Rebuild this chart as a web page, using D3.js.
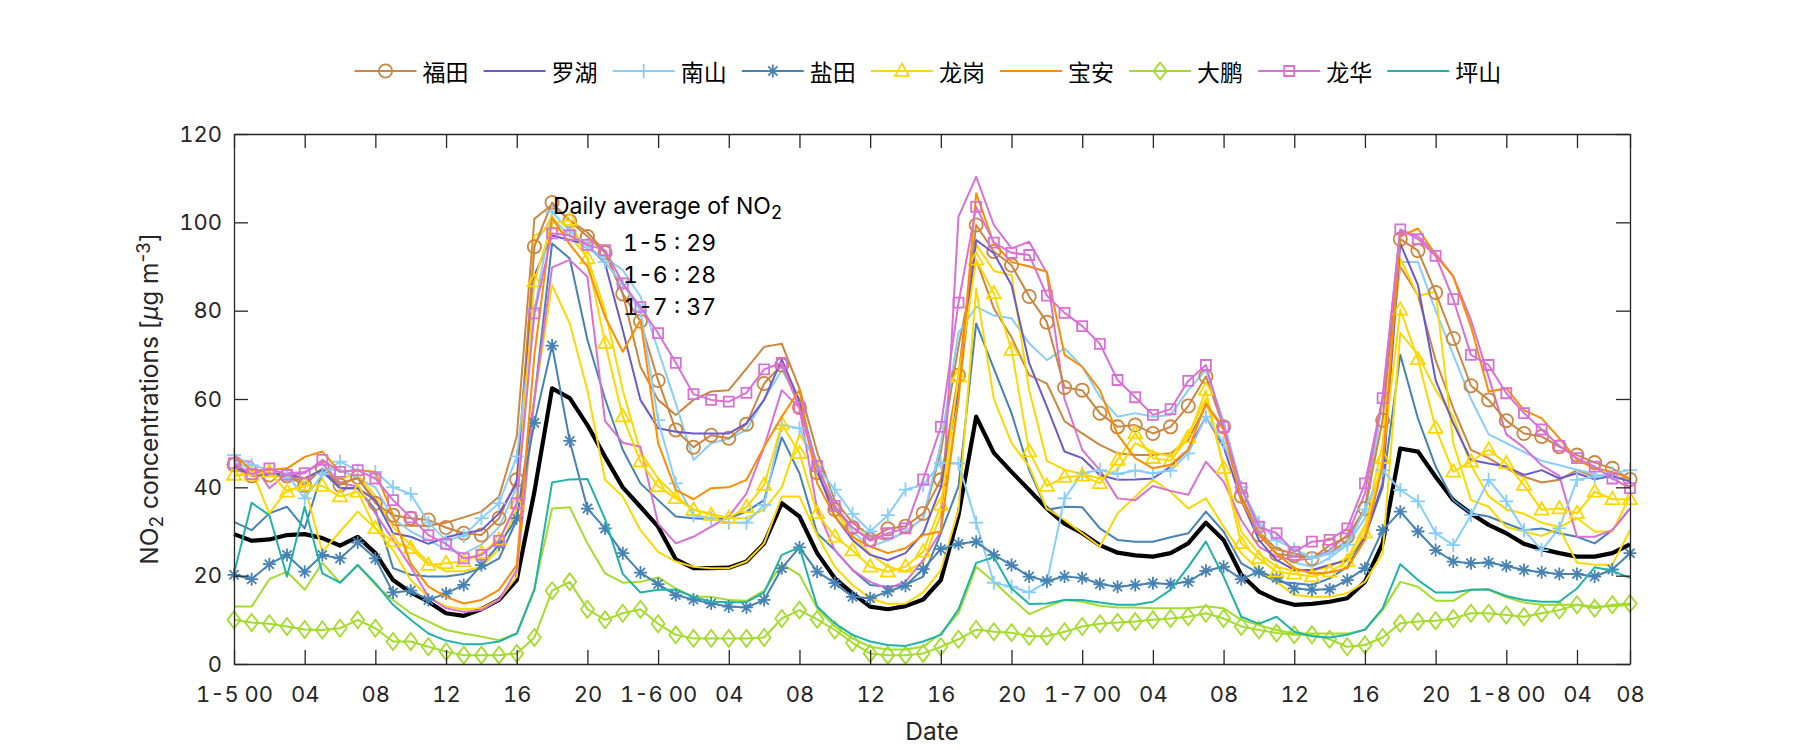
<!DOCTYPE html>
<html><head><meta charset="utf-8">
<script src="https://cdn.jsdelivr.net/npm/d3@7"></script>
<style>body{margin:0;background:#fff}</style>
</head><body><svg id="c" width="1800" height="750"></svg>
<script>
// ---------------- data ----------------
const hours = d3.range(80);
const xTickHours = [0,4,8,12,16,20,24,28,32,36,40,44,48,52,56,60,64,68,72,76,79];
const xTickLabels = ["1-5 00","04","08","12","16","20","1-6 00","04","08","12","16","20","1-7 00","04","08","12","16","20","1-8 00","04","08"];
const yTicks = [0,20,40,60,80,100,120];
const stationNames = ["福田","罗湖","南山","盐田","龙岗","宝安","大鹏","龙华","坪山"];
const dailyLabels = ["1-5 : 29","1-6 : 28","1-7 : 37"];

const futian = [45.1,42.6,42.8,42.6,40.5,44.3,40.5,42.3,36.4,33.7, 33.0,32.6,30.9,29.6,29.2,33.0,41.7,94.5,104.5,100.3, 96.8,93.1,83.8,77.6,64.2,53.0,49.1,51.8,51.1,54.3, 63.5,67.7,58.1,43.3,35.0,30.9,28.2,30.6,31.2,34.1, 41.7,65.4,99.4,93.4,90.3,83.2,77.4,62.6,62.0,56.8, 53.7,54.1,52.2,53.7,58.4,65.1,53.7,38.0,29.2,24.9, 24.5,23.9,26.9,28.8,35.2,55.2,96.2,93.6,84.1,73.7, 63.0,59.8,55.1,52.2,51.5,49.2,47.3,45.6,44.3,41.8];
const futian2 = [44,43,43,43,41,44,41,42,37.1,31.5, 31.3,31.3,32.0,33.2,34.5,37.9,51.5,100.8,104,100.5, 97.7,93.4,83.9,67.3,59.8,56.4,59.8,61.7,62.0,66.9, 71.8,72.5,62.4,48,37,32,29,28,30,33, 48,72,91.5,80.5,74.0,65.4,63.5,55,52.2,49.6, 47.7,47.3,47.3,47.7,50.7,58.6,53.7,38,30,26, 25,24,25,28,35,60,90,83.5,68.8,57.9, 48.5,46.6,44.3,42.4,41.1,41.7,43.9,42.4,42.4,41.7];
const luohu = [44.7,42.8,43.0,43.0,42.0,44.0,39.8,39.8,37.1,29.6, 28.8,27.2,28.7,29.6,30.3,34.1,40.9,88,97,96, 95,90.7,75.6,59.8,53.4,52.6,52.2,52.2,52.2,54.5, 59.8,68.9,59.5,43.9,33.4,28.1,24.7,23.5,25.1,29.6, 40,62,96,93,85.8,68.1,58.3,48.1,46.6,42.8, 41.7,41.8,42.0,44.7,48.5,56.0,49.2,37.1,28.1,23.5, 21.3,21.3,22.4,23.5,28.8,40.9,95.2,85.8,64.3,54.5, 46.2,45.4,44.7,42.8,43.9,42.0,43.2,41.8,42.6,41.3];
const nanshan = [47.3,45,44,43,37.5,43,45.8,43.8,43.5,40.0, 38.5,32,28,29,33,36.4,47,80,102.4,98, 95,91,86,80,55.2,40.9,33.7,33,32,32, 36,54.1,53.4,44.7,39.5,34,30,33.7,39.5,40.5, 45.6,45.4,32,18.4,17.5,16.2,18.6,37.5,43.2,43.9, 43.0,43.8,43.2,43.8,47.7,56,50,40,32,28, 26,24,25,27,35,43.9,39.4,36.8,29.6,26.9, 33.7,41.7,36.8,30.3,25.8,30.7,41.7,42.4,43.2,43.9];
const nanshan2 = [46,44,43,42,41,44,44,42,40,33, 30,28,26,25,27,31,40,95,101,97, 94,92,89.2,83.2,71.1,59.0,46.2,50,51,53, 60,66.5,60,45,36,30,26.6,28,30,33, 50,75,80.9,78.9,78.3,72.6,68.8,71.5,67.3,60.5, 56.0,56.8,56.0,56.4,62.0,66.6,55,40,30,25, 23,22,24,27,33,60,91,91,80,70, 60,52,50,48,46,45,44,43,42,42];
const yantian = [20.2,19.2,22.6,24.7,20.9,24.7,23.9,27.5,23.9,16.2, 16.6,14.5,16.0,17.9,22.4,27,33,54.6,72.1,50.5, 35.2,30.7,25.1,20.7,18.1,15.6,14.6,13.7,13.0,12.8, 14.5,21.7,26.4,20.9,18.3,15.2,14.9,16.4,17.7,21.5, 26.0,27.2,27.7,24.7,22.4,19.8,18.8,19.8,19.5,18.1, 17.5,17.9,18.3,18.1,18.6,21.1,22.0,19.2,20.9,19.5, 17.1,16.8,16.9,19.0,21.7,30.3,34.5,30.0,25.8,23.2, 22.8,23.0,22.2,21.3,20.8,20.4,20.4,19.8,21.4,25.1];
const yantian2 = [32.2,30.3,34.1,35.6,30.7,43.5,39.8,39.8,34.9,21.7, 20.2,19.8,19.8,20.4,21.7,23.9,32.6,60,95.2,91.8, 73.4,60,48.5,40.9,37.1,33.4,33.0,32.8,33.0,34.5, 37.1,51.3,43.2,29.6,25.8,21.3,17.9,17.5,17.9,19.8, 29.6,40.2,77.1,66.9,56.8,43.9,34.9,35.6,35.5,30.7, 28.1,27.7,27.7,28.7,29.6,34.5,30.0,22.8,20.5,18.6, 18.3,17.9,19.4,22.0,28.8,40,70.0,55.6,44.7,37.1, 34.1,33.4,31.8,30.3,30.7,29.6,28.8,27.3,30.3,35.2];
const longgang = [42.8,42.8,43.5,39.0,40.5,40.3,37.9,39.0,30.7,27.7, 26.2,22.4,22.8,23.2,25.1,28.1,36.4,86.6,99.8,100.5, 91.8,72.6,56.0,45.8,40.2,37.5,34.9,33.7,33.0,35.5, 40.5,54.3,47.7,34.1,28.8,25.7,22.0,20.9,22.0,25.4, 36.0,65.1,91.5,83.9,71.1,48.1,40.3,42.3,42.6,40.9, 46.2,52.2,46.6,46.0,51.3,62,44.3,27.3,23.9,20.9, 20.4,19.8,20.9,23.2,29.7,46.6,80.2,69.0,53.4,43.5, 45.8,48.5,45.4,40.5,34.9,35.2,34.1,39.0,37.3,37.3];
const longgang2 = [44,44,43,43,42,44,42,43,38,31, 27,23,21,21,22,26,35,97,99,97, 92,80,62,48,42,38,35,34,33,33, 35,40,52,46,35,29,25,22,21,23, 34,60,95,89,88,62,46,44,43,42, 44,50,48,47,52,60,45,30,25,22, 21,21,22,24,31,50,91.8,83.4,84.3,50, 37.1,35.6,31,30,29,30.7,22.9,22.5,22.5,30.3];
const longgang3 = [42.4,43.9,34.1,39.4,40.2,25.4,30.0,34.5,30.7,25.8, 19.0,15.2,13.0,12.4,12.6,14.6,19.8,60,85.8,77.1, 62,41.7,37.9,30.3,25.4,23.2,22.0,21.7,21.7,23.2, 27.3,37.9,37.9,29.2,22.0,17.9,14.9,13.6,13.7,16.2, 21.3,34.9,85,60,50,44.7,35.2,32.6,29.6,26.6, 34.1,37.9,41.7,39.0,35.2,37.5,31.1,25.1,21.3,18.6, 15.6,15.2,15.2,16.0,18.6,25,75,70,62,56, 45,38,35,34,32,31,33,30,30,38];
const baoan = [47.3,43.9,43.9,44.3,46.9,48.1,43.5,43.9,43.5,33.7, 22.8,17.5,15.2,13.7,14.5,16.8,22.4,70,101,95, 90,78.6,70.7,77.9,50,39.4,37.3,39.8,40.0,41.7, 49.2,56,62,40.9,33.4,28.8,26.6,25.1,26.2,29.2, 30,60,106.6,95.2,91,90.0,88.8,70.0,67.3,62.0, 52,46.6,44.3,45.1,48.5,59.0,53,37.1,29.6,25, 21.7,20.5,20.7,21.7,28.1,44.7,96.8,98.6,92.6,87.7, 76.4,61.7,62.4,57.5,55.6,51.1,46.2,44.3,43.5,42.0];
const dapeng = [10.0,9.4,9.1,8.5,7.8,7.7,8.1,10.0,8.1,5.1, 5.1,3.9,2.8,2.0,2.0,2.0,2.4,6.0,16.6,18.6, 12.4,10.0,11.5,12.4,9.1,6.6,5.8,5.8,5.8,5.8, 6.0,10.3,12.2,10.1,7.7,4.8,2.4,2.0,2.0,2.4, 3.9,5.6,7.8,7.3,7.1,6.3,6.3,7.3,8.5,9.1, 9.4,9.6,10.0,10.3,10.7,11.5,10.3,8.5,7.7,7.0, 6.6,6.6,5.6,3.9,4.3,6.0,9.2,9.6,9.8,10.3, 11.5,11.5,11.1,10.7,11.5,12.2,13.4,12.6,13.4,13.7];
const dapeng2 = [13.0,13.0,19.2,20.9,16.8,22.9,18.4,22.4,17.9,14.5, 11.5,9.6,7.7,6.9,6.2,5.4,6.9,17.1,35.2,35.5, 27.3,20.5,18.4,18.6,19.6,17.1,15.2,15.2,14.5,14.3, 16.6,22.6,20.2,12.6,8.5,5.8,3.9,3.3,3.3,3.9, 6.9,11.5,22.0,18.6,14.9,11.3,13.0,14.5,14.1,13.2, 12.8,12.8,12.6,12.6,12.6,13.1,12.6,10.0,8.8,7.7, 6.9,6.9,6.9,6.9,7.7,12.2,18.6,17.5,14.3,14.3, 16.8,16.8,15.1,13.9,13.4,13.4,13.4,13.0,13.1,13.4];
const longhua = [45.5,43,44.3,42.8,43.2,46.2,43.5,43.9,42.0,37.1, 33.2,29.2,27.2,23.9,24.7,27.9,36.4,79.4,97.5,97.1, 94.9,93.7,86.2,80.8,74.9,68.2,61.1,59.8,59.4,61.4, 66.7,68.2,58.1,44.8,35.8,30.9,27.9,29.6,30.7,41.8, 53.7,81.8,103.5,95.4,93.1,92.6,83.4,79.5,76.5,72.5, 64.3,60.4,56.4,57.7,64.1,67.7,53.7,39.8,31.1,29.6, 25.4,27.7,28.1,30.7,40.9,60.2,98.4,96.2,92.4,82.6, 70.0,67.7,61.3,56.8,53.1,49.4,46.6,44.7,42.0,39.8];
const longhua2 = [46.2,45.8,39.8,43.2,43.5,45.4,41,40.2,34.1,28.1, 22.0,15.2,12.6,11.8,12.2,14.5,21.3,60,89.8,91.5, 87.7,55,50.1,49.2,31.8,27.3,28.8,31.1,33.4,38.6, 49.2,62,58,35,25.8,21.3,18.6,17.1,18.6,23.5, 30,101.3,110.3,99.4,94.1,95.6,88.5,60,48.5,43.9, 37.5,37.1,40.3,39.2,38.3,45.8,41.3,32.6,26.6,24.3, 23.5,23.9,25.8,29.2,38.6,60.5,98.3,96.8,93.0,87.7, 77.9,65,52,49,45,42.6,28.8,28.8,30.3,35.2];
const pingshan = [20.5,36.5,33.7,19.8,35.6,20.5,18.4,22.4,18.3,13.4, 10.0,6.9,5.3,4.5,4.5,5.1,6.9,16.8,41.1,41.8, 41.9,32.8,20.4,16.2,16.8,16.8,15.2,14.1,14.0,14.0, 16.2,24.7,26.4,13.0,9.2,6.6,5.1,4.3,4.1,5.1, 6.6,12.4,22.9,24.2,17.1,13.6,13.7,14.5,14.5,13.9, 13.4,13.4,14.1,16.8,22.0,27.7,19.8,10.7,9.1,10.7, 7.3,6.3,6.0,6.6,7.8,12.6,22.6,19.0,16.2,16.2, 16.8,16.9,15.4,14.5,14.1,14.1,17.1,21.9,21.1,19.5];
const average = [29.4,27.9,28.2,29.2,29.4,28.5,26.8,28.8,25.1,19.0, 16.2,14.1,11.5,10.9,12.4,14.5,19.0,39.0,62.4,60.2, 54.1,46.9,40.0,35.6,31.1,23.7,21.7,21.7,21.8,23.2, 27.3,36.4,33.4,25.1,19.4,16.0,13.0,12.4,13.1,14.6, 19.0,33.7,56.0,47.8,43.5,39.4,35.2,31.8,29.6,26.9, 25.2,24.6,24.3,25.1,27.3,32.0,28.1,20.2,16.4,14.5, 13.4,13.6,14.1,14.9,18.6,27.3,48.8,48.1,42.4,37.1, 34.1,31.5,29.6,27.2,26.0,25.1,24.3,24.3,25.1,27.1];

// ---------------- styles ----------------
const colors = {futian:"#CD853F", luohu:"#6A5ACD", nanshan:"#87CEFA", yantian:"#4682B4", longgang:"#FFD700",
  baoan:"#FF8C00", dapeng:"#A3DC2B", longhua:"#DA70D6", pingshan:"#20B2AA"};
const legendSeries = [
  {name:stationNames[0], v:futian, c:colors.futian, m:"circle"},
  {name:stationNames[1], v:luohu, c:colors.luohu, m:"none"},
  {name:stationNames[2], v:nanshan, c:colors.nanshan, m:"plus"},
  {name:stationNames[3], v:yantian, c:colors.yantian, m:"star"},
  {name:stationNames[4], v:longgang, c:colors.longgang, m:"triangle"},
  {name:stationNames[5], v:baoan, c:colors.baoan, m:"none"},
  {name:stationNames[6], v:dapeng, c:colors.dapeng, m:"diamond"},
  {name:stationNames[7], v:longhua, c:colors.longhua, m:"square"},
  {name:stationNames[8], v:pingshan, c:colors.pingshan, m:"none"}
];
const extraSeries = [
  {v:futian2, c:colors.futian}, {v:nanshan2, c:colors.nanshan}, {v:yantian2, c:colors.yantian},
  {v:longgang2, c:colors.longgang}, {v:longgang3, c:colors.longgang}, {v:dapeng2, c:colors.dapeng},
  {v:longhua2, c:colors.longhua}
];

const FONT = "Inter, 'Liberation Sans', sans-serif";
const AX = "#262626";
const svg = d3.select("#c");
svg.append("rect").attr("width",1800).attr("height",750).attr("fill","#fff");

const L = 234, R = 1630, T = 134, B = 664;
const x = d3.scaleLinear().domain([0,79]).range([L,R]);
const y = d3.scaleLinear().domain([0,120]).range([B,T]);

const markerPath = {
  plus: "M-7,0H7M0,-7V7",
  star: "M-6.5,0H6.5M0,-6.5V6.5M-4.6,-4.6L4.6,4.6M-4.6,4.6L4.6,-4.6",
  triangle: "M0,-7.5L7,4.8L-7,4.8Z",
  diamond: "M0,-8.5L6.5,0L0,8.5L-6.5,0Z",
  square: "M-5,-5H5V5H-5Z"
};
function drawMarker(g, type, cx, cy, color){
  if (type === "none") return;
  if (type === "circle") {
    g.append("circle").attr("cx",cx).attr("cy",cy).attr("r",6.6)
      .attr("fill","none").attr("stroke",color).attr("stroke-width",1.8);
  } else {
    g.append("path").attr("d",markerPath[type]).attr("transform",`translate(${cx},${cy})`)
      .attr("fill","none").attr("stroke",color).attr("stroke-width",1.8);
  }
}

const line = d3.line().x((d,i)=>x(hours[i])).y(d=>y(d));
const plot = svg.append("g");

plot.append("path").datum(average).attr("d",line).attr("fill","none")
  .attr("stroke","#000").attr("stroke-width",4.2).attr("stroke-linejoin","round");
extraSeries.forEach(s=>{
  plot.append("path").datum(s.v).attr("d",line).attr("fill","none")
    .attr("stroke",s.c).attr("stroke-width",2).attr("stroke-linejoin","round");
});
legendSeries.forEach(s=>{
  plot.append("path").datum(s.v).attr("d",line).attr("fill","none")
    .attr("stroke",s.c).attr("stroke-width",2).attr("stroke-linejoin","round");
  const mg = plot.append("g");
  s.v.forEach((d,i)=>drawMarker(mg, s.m, x(hours[i]), y(d), s.c));
});

// ---------------- axes ----------------
const xAxis = d3.axisBottom(x).tickValues(xTickHours).tickFormat((d,i)=>xTickLabels[i])
  .tickSize(-14).tickSizeOuter(0).tickPadding(22);
const gx = svg.append("g").attr("transform",`translate(0,${B})`).call(xAxis);
const yAxis = d3.axisLeft(y).tickValues(yTicks).tickSize(-14).tickSizeOuter(0).tickPadding(12);
const gy = svg.append("g").attr("transform",`translate(${L},0)`).call(yAxis);
const gxt = svg.append("g").attr("transform",`translate(0,${T})`)
  .call(d3.axisTop(x).tickValues(xTickHours).tickSize(-14).tickSizeOuter(0).tickFormat(""));
const gyr = svg.append("g").attr("transform",`translate(${R},0)`)
  .call(d3.axisRight(y).tickValues(yTicks).tickSize(-14).tickSizeOuter(0).tickFormat(""));
[gx,gy,gxt,gyr].forEach(g=>{
  g.selectAll("path.domain").attr("stroke",AX).attr("stroke-width",1.3);
  g.selectAll(".tick line").attr("stroke",AX).attr("stroke-width",1.3);
  g.selectAll(".tick text").attr("fill",AX).style("font-family",FONT).style("font-size","22px")
    .style("font-variant-numeric","tabular-nums");
});

// axis labels
svg.append("text").attr("x",(L+R)/2).attr("y",740).attr("text-anchor","middle")
  .style("font-family",FONT).style("font-size","24.5px").attr("fill",AX).text("Date");
const yl = svg.append("text").attr("transform",`translate(158,${(T+B)/2}) rotate(-90)`)
  .attr("text-anchor","middle").style("font-family",FONT).style("font-size","24.5px").attr("fill",AX);
yl.append("tspan").text("NO");
yl.append("tspan").attr("baseline-shift","-28%").style("font-size","19px").text("2");
yl.append("tspan").text(" concentrations [");
yl.append("tspan").style("font-style","italic").text("μ");
yl.append("tspan").text("g m");
yl.append("tspan").attr("baseline-shift","40%").style("font-size","19px").text("-3");
yl.append("tspan").text("]");

// annotation
const ann = svg.append("text").attr("x",553).attr("y",214)
  .style("font-family",FONT).style("font-size","23px").attr("fill","#000");
ann.append("tspan").text("Daily average of NO");
ann.append("tspan").attr("baseline-shift","-30%").style("font-size","18px").text("2");
dailyLabels.forEach((t,i)=>{
  svg.append("text").attr("x",623).attr("y",251+i*32)
    .style("font-family",FONT).style("font-size","23px").style("font-variant-numeric","tabular-nums")
    .attr("fill","#000").text(t);
});

// legend
const lg = svg.append("g");
legendSeries.forEach((s,i)=>{
  const x0 = 354.5 + i*129.1, ly = 71;
  lg.append("line").attr("x1",x0).attr("x2",x0+62).attr("y1",ly).attr("y2",ly)
    .attr("stroke",s.c).attr("stroke-width",2);
  drawMarker(lg, s.m, x0+31, ly, s.c);
  lg.append("text").attr("x",x0+68).attr("y",ly).attr("dominant-baseline","central")
    .style("font-family","'Noto Sans CJK SC', sans-serif").style("font-size","23px")
    .attr("fill","#000").text(s.name);
});
</script></body></html>
